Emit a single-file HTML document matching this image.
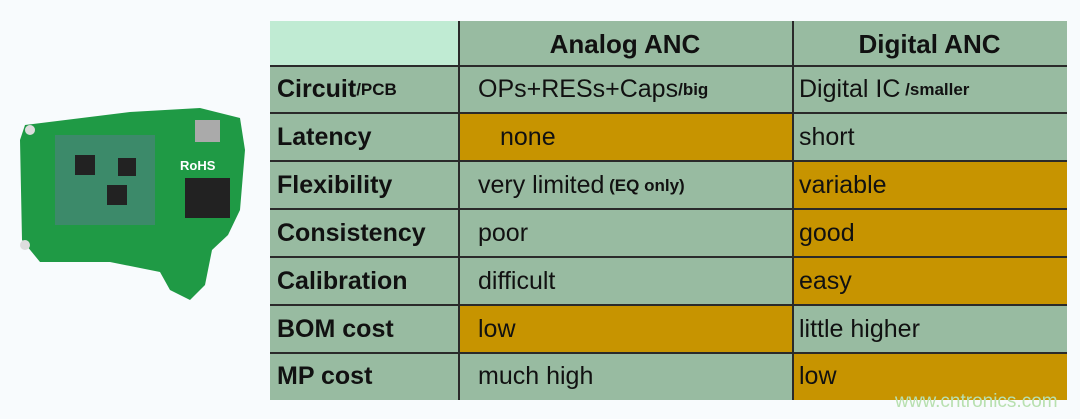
<!DOCTYPE html>
<html><head><meta charset="utf-8"><style>
body{margin:0;width:1080px;height:419px;background:#f8fbfd;position:relative;overflow:hidden;font-family:"Liberation Sans",sans-serif}
.c{position:absolute;box-sizing:border-box;color:#111;font-size:25px;line-height:1;display:flex;align-items:center;padding-left:7px;background:#98bba1;white-space:nowrap}
.b{font-weight:bold}
.o{background:#c79400}
.s{font-size:17px;font-weight:bold}
.h{justify-content:center;font-weight:bold;padding-left:0;font-size:26px}
.ln{position:absolute;background:#2a2a2a}
</style></head><body>
<svg style="position:absolute;left:0;top:0" width="260" height="419">
<polygon points="25,125 130,112 200,108 240,118 245,150 240,210 228,235 212,250 205,285 190,300 170,290 160,272 110,262 40,262 22,240 20,140" fill="#1f9a45"/>
<rect x="55" y="135" width="100" height="90" fill="#3c8a6a"/>
<rect x="75" y="155" width="20" height="20" fill="#222"/>
<rect x="118" y="158" width="18" height="18" fill="#222"/>
<rect x="107" y="185" width="20" height="20" fill="#222"/>
<rect x="195" y="120" width="25" height="22" fill="#aaa"/>
<rect x="185" y="178" width="45" height="40" fill="#222"/>
<text x="180" y="170" font-family="Liberation Sans" font-size="13" font-weight="bold" fill="#fff">RoHS</text>
<circle cx="30" cy="130" r="5" fill="#ddd"/><circle cx="25" cy="245" r="5" fill="#ddd"/>
</svg>
<div class="c" style="left:270px;top:21px;width:188px;height:45px;background:#c0ebd3"></div>
<div class="c h" style="left:458px;top:21px;width:334px;height:45px">Analog ANC</div>
<div class="c h" style="left:792px;top:21px;width:275px;height:45px">Digital ANC</div>

<div class="c b" style="left:270px;top:66px;width:188px;height:47px">Circuit<span class="s">/PCB</span></div>
<div class="c" style="left:458px;top:66px;width:334px;height:47px;padding-left:20px">OPs+RESs+Caps<span class="s">/big</span></div>
<div class="c" style="left:792px;top:66px;width:275px;height:47px">Digital IC <span class="s">&nbsp;/smaller</span></div>

<div class="c b" style="left:270px;top:113px;width:188px;height:48px">Latency</div>
<div class="c o" style="left:458px;top:113px;width:334px;height:48px;padding-left:42px">none</div>
<div class="c" style="left:792px;top:113px;width:275px;height:48px">short</div>

<div class="c b" style="left:270px;top:161px;width:188px;height:48px">Flexibility</div>
<div class="c" style="left:458px;top:161px;width:334px;height:48px;padding-left:20px">very limited <span class="s">&nbsp;(EQ only)</span></div>
<div class="c o" style="left:792px;top:161px;width:275px;height:48px">variable</div>

<div class="c b" style="left:270px;top:209px;width:188px;height:48px">Consistency</div>
<div class="c" style="left:458px;top:209px;width:334px;height:48px;padding-left:20px">poor</div>
<div class="c o" style="left:792px;top:209px;width:275px;height:48px">good</div>

<div class="c b" style="left:270px;top:257px;width:188px;height:48px">Calibration</div>
<div class="c" style="left:458px;top:257px;width:334px;height:48px;padding-left:20px">difficult</div>
<div class="c o" style="left:792px;top:257px;width:275px;height:48px">easy</div>

<div class="c b" style="left:270px;top:305px;width:188px;height:48px">BOM cost</div>
<div class="c o" style="left:458px;top:305px;width:334px;height:48px;padding-left:20px">low</div>
<div class="c" style="left:792px;top:305px;width:275px;height:48px">little higher</div>

<div class="c b" style="left:270px;top:353px;width:188px;height:47px">MP cost</div>
<div class="c" style="left:458px;top:353px;width:334px;height:47px;padding-left:20px">much high</div>
<div class="c o" style="left:792px;top:353px;width:275px;height:47px">low</div>

<div class="ln" style="left:458px;top:21px;width:2px;height:379px"></div>
<div class="ln" style="left:792px;top:21px;width:2px;height:379px"></div>
<div class="ln" style="left:270px;top:65px;width:797px;height:2px"></div>
<div class="ln" style="left:270px;top:112px;width:797px;height:2px"></div>
<div class="ln" style="left:270px;top:160px;width:797px;height:2px"></div>
<div class="ln" style="left:270px;top:208px;width:797px;height:2px"></div>
<div class="ln" style="left:270px;top:256px;width:797px;height:2px"></div>
<div class="ln" style="left:270px;top:304px;width:797px;height:2px"></div>
<div class="ln" style="left:270px;top:352px;width:797px;height:2px"></div>
<div style="position:absolute;left:895px;top:391px;font-size:19px;color:#b8e0b0">www.cntronics.com</div>
</body></html>
